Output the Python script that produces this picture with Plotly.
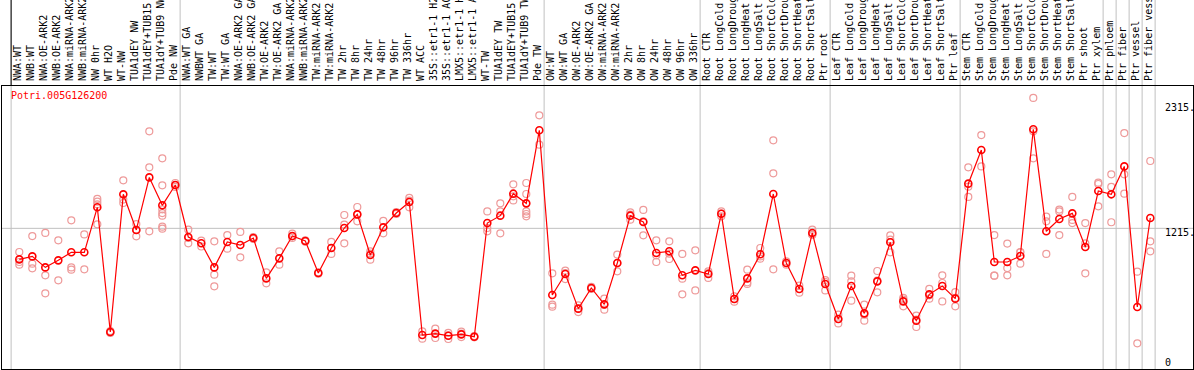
import plotly.graph_objects as go

categories = [
    "NWA:WT", "NWB:WT", "NWA:OE-ARK2", "NWB:OE-ARK2", "NWA:miRNA-ARK2", "NWB:miRNA-ARK2",
    "NW 0hr", "WT H2O", "WT-NW", "TUA1dEY NW", "TUA1dEY+TUB15 NW", "TUA1dY+TUB9 NW", "Pde NW",
    "NWA:WT GA", "NWBWT GA", "TW:WT", "TW:WT GA", "NWA:OE-ARK2 GA", "NWB:OE-ARK2 GA",
    "TW:OE-ARK2", "TW:OE-ARK2 GA", "NWA:miRNA-ARK2", "NWB:miRNA-ARK2", "TW:miRNA-ARK2",
    "TW:miRNA-ARK2", "TW 2hr", "TW 8hr", "TW 24hr", "TW 48hr", "TW 96hr", "TW 336hr",
    "WT ACC", "35S::etr1-1 H2O", "35S::etr1-1 ACC", "LMX5::etr1-1 H2O", "LMX5::etr1-1 ACC",
    "WT-TW", "TUA1dEY TW", "TUA1dEY+TUB15 TW", "TUA1dY+TUB9 TW", "Pde TW",
    "OW:WT", "OW:WT GA", "OW:OE-ARK2", "OW:OE-ARK2 GA", "OW:miRNA-ARK2", "OW:miRNA-ARK2",
    "OW 2hr", "OW 8hr", "OW 24hr", "OW 48hr", "OW 96hr", "OW 336hr",
    "Root CTR", "Root LongCold", "Root LongDrought", "Root LongHeat", "Root LongSalt",
    "Root ShortCold", "Root ShortDrought", "Root ShortHeat", "Root ShortSalt", "Ptr root",
    "Leaf CTR", "Leaf LongCold", "Leaf LongDrought", "Leaf LongHeat", "Leaf LongSalt",
    "Leaf ShortCold", "Leaf ShortDrought", "Leaf ShortHeat", "Leaf ShortSalt", "Ptr leaf",
    "Stem CTR", "Stem LongCold", "Stem LongDrought", "Stem LongHeat", "Stem LongSalt",
    "Stem ShortCold", "Stem ShortDrought", "Stem ShortHeat", "Stem ShortSalt", "Ptr shoot",
    "Ptr xylem", "Ptr phloem", "Ptr fiber", "Ptr vessel", "Ptr fiber vessel",
]

means = [
    933, 960, 860, 924, 997, 997, 1406, 273, 1524, 1200, 1678, 1424, 1609,
    1136, 1079, 860, 1091, 1063, 1127, 760, 942, 1145, 1100, 809, 1036, 1218, 1342,
    973, 1224, 1354, 1454, 245, 258, 239, 251, 230, 1263, 1330, 1530, 1442, 2106,
    609, 800, 485, 673, 524, 900, 1330, 1272, 991, 1006, 788, 833,
    800, 1348, 573, 760, 979, 1527, 900, 664, 1173, 709,
    391, 691, 442, 733, 1088, 551, 376, 615, 691, 576,
    1621, 1927, 909, 909, 963, 2115, 1188, 1300, 1351, 1045,
    1554, 1524, 1778, 500, 1309,
]

replicates = [
    [1000, 909, 885], [1145, 894, 851], [1173, 788, 624], [1106, 742], [1288, 860, 839],
    [1160, 842], [1482, 1457, 1433, 1251], [282, 270, 264], [1651, 1476, 1445],
    [1254, 1200, 1142], [2097, 1769, 1188], [1851, 1606, 1388, 1354, 1330, 1230, 1212],
    [1627, 1609, 1591],
    [1203, 1127, 1079], [1103, 1050], [1097, 794, 688], [1154, 1030], [1182, 951],
    [1136, 1118], [815, 715], [1006, 885], [1166, 1142, 1127], [1106, 1094], [815, 803],
    [1091, 982], [1336, 1248, 1079], [1409, 1339, 1279], [1006, 985, 930], [1282, 1170],
    [1363, 1345], [1491, 1466, 1406], [279, 212], [303, 218], [264, 242, 209],
    [276, 258, 227], [236, 224], [1369, 1218, 1188], [1442, 1369, 1170],
    [1615, 1506, 1469], [1627, 1527, 1369, 1345, 1324], [2242, 1975],
    [806, 521, 503], [830, 809, 754], [515, 485, 454], [682, 664], [576, 521, 476],
    [976, 900, 824], [1360, 1339, 1294], [1382, 1279, 1151], [1106, 970, 909],
    [1097, 985, 936], [982, 757, 615], [1015, 651],
    [824, 809, 764], [1369, 1348, 1324], [597, 573, 548], [839, 724, 709],
    [1036, 960, 939], [2015, 1715, 842], [915, 885], [694, 630], [1203, 1157, 1157],
    [745, 727, 651],
    [430, 391, 351], [785, 733, 557], [521, 430, 376], [827, 739, 633], [1151, 1112, 997],
    [582, 567, 506], [421, 385, 318], [664, 606, 576], [788, 718, 551], [636, 582, 506],
    [1769, 1594, 1500], [2063, 1778], [1154, 785, 785], [1076, 854, 788], [1000, 997, 894],
    [2400, 2097, 1851], [1321, 1279, 982], [1385, 1369, 1154], [1500, 1291, 1263],
    [1263, 1079, 806],
    [1630, 1618, 1415], [1706, 1591, 1270], [2081, 1706, 1530], [821, 170], [1827, 1097, 1006],
]

group_ends = [-1, 12, 40, 52, 62, 72, 83, 84, 85, 86, 87]
y_tick_vals = [0, 1215, 2315]
y_tick_text = ["0", "1215.", "2315."]
gene_name = "Potri.005G126200"

FONT = "DejaVu Sans Mono"
GREY = "#C0C0C0"

xs = list(range(len(categories)))
rep_x = [i for i, reps in enumerate(replicates) for _ in reps]
rep_y = [v for reps in replicates for v in reps]

fig = go.Figure()
fig.add_trace(go.Scatter(
    x=rep_x, y=rep_y, mode="markers",
    marker=dict(symbol="circle-open", size=7, color="#EE9A9A", line=dict(width=1.2, color="#EE9A9A")),
    hoverinfo="skip",
))
fig.add_trace(go.Scatter(
    x=xs, y=means, mode="lines+markers",
    line=dict(color="#FF0000", width=1.2),
    marker=dict(symbol="circle-open", size=7, color="#FF0000", line=dict(width=1.6, color="#FF0000")),
))

shapes = [dict(type="line", xref="paper", yref="y", x0=0, x1=1, y0=y_tick_vals[1], y1=y_tick_vals[1],
               line=dict(color=GREY, width=1), layer="below")]
for b in group_ends:
    shapes.append(dict(type="line", xref="x", yref="paper", x0=b + 0.37, x1=b + 0.37, y0=0, y1=1.31,
                       line=dict(color=GREY, width=1), layer="below"))
shapes.append(dict(type="line", xref="x", yref="paper", x0=group_ends[0] + 0.37, x1=group_ends[0] + 0.37,
                   y0=1, y1=1.31, line=dict(color="black", width=1), layer="above"))

annotations = [dict(text=gene_name, xref="paper", yref="paper", x=0.006, y=0.965, xanchor="left",
                    yanchor="middle", showarrow=False, font=dict(family=FONT, size=10, color="#FF0000"))]
for v, t in zip(y_tick_vals, y_tick_text):
    annotations.append(dict(text=t, xref="paper", yref="y", x=0.9748, y=v, xanchor="left", yanchor="middle",
                            showarrow=False, yshift=-4 if v == 1215 else 0,
                            font=dict(family=FONT, size=10, color="black")))

fig.update_layout(
    width=1194, height=370,
    margin=dict(l=2, r=1, t=86, b=1, autoexpand=False),
    paper_bgcolor="white", plot_bgcolor="white",
    showlegend=False,
    shapes=shapes, annotations=annotations,
    xaxis=dict(range=[-1.331, 90.285], tickmode="array", tickvals=xs, ticktext=categories,
               side="top", tickangle=-90, ticks="", ticklabelstandoff=2, ticklabelshift=-2,
               automargin=False,
               tickfont=dict(family=FONT, size=10, color="black"),
               showgrid=False, zeroline=False, showline=True, mirror=True,
               linecolor="black", linewidth=1),
    yaxis=dict(range=[-63.6, 2508.6], showticklabels=False, ticks="", showgrid=False, zeroline=False,
               automargin=False,
               showline=True, mirror=True, linecolor="black", linewidth=1),
)

fig.write_html("out.html", config={"displayModeBar": False},
               post_script="document.body.style.margin='0';document.body.style.overflow='hidden';")
